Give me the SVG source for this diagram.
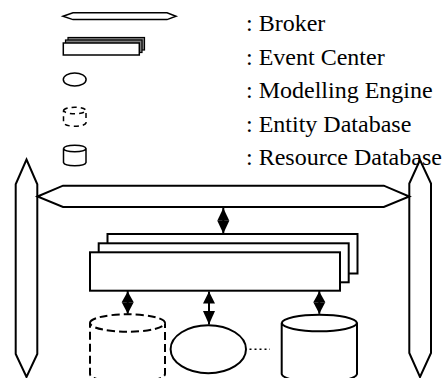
<svg xmlns="http://www.w3.org/2000/svg" width="443" height="378" viewBox="0 0 443 378">
  <style>
    .shape { fill: #fff; stroke: #000; stroke-width: 2; stroke-linejoin: miter; }
    .legend { fill: #fff; stroke: #000; stroke-width: 1.5; }
    .layer { fill: #808080; stroke: #000; stroke-width: 1.2; }
    .dash { stroke-dasharray: 8 4; }
    .ldash { stroke-dasharray: 5 4; }
    .label { font-family: "Liberation Serif", "Times New Roman", serif; font-size: 24px; fill: #000; }
    .head { fill: #000; stroke: none; }
    .stem { stroke: #000; stroke-width: 2; fill: none; }
  </style>
  <rect width="443" height="378" fill="#fff"/>

  <!-- legend -->
  <g id="legend">
    <g id="legend-broker">
      <polygon class="legend" points="63,16.3 73,12.8 167,12.8 176,16.3 167,19.6 73,19.6"/>
      <text class="label" x="246" y="31">: Broker</text>
    </g>
    <g id="legend-event-center">
      <rect class="layer" x="68" y="37.5" width="76.5" height="12.5"/>
      <rect class="layer" x="65.5" y="40" width="76.5" height="12.5"/>
      <rect class="legend" x="63.3" y="43" width="76" height="12"/>
      <text class="label" x="246" y="64.5">: Event Center</text>
    </g>
    <g id="legend-modelling-engine">
      <ellipse class="legend" cx="74.7" cy="79.5" rx="11.4" ry="6.6"/>
      <text class="label" x="246" y="98">: Modelling Engine</text>
    </g>
    <g id="legend-entity-database">
      <path class="legend ldash" d="M63.5,110.5 A11.3,3.6 0 0 1 86,110.5 A11.3,3.6 0 0 1 63.5,110.5 V123 A11.3,3.6 0 0 0 86,123 V110.5"/>
      <text class="label" x="246" y="131.5">: Entity Database</text>
    </g>
    <g id="legend-resource-database">
      <path class="legend" d="M63.5,148.5 A11.3,3.6 0 0 1 86,148.5 A11.3,3.6 0 0 1 63.5,148.5 V162.5 A11.3,3.6 0 0 0 86,162.5 V148.5"/>
      <text class="label" x="246" y="165">: Resource Database</text>
    </g>
  </g>

  <!-- side brokers -->
  <g id="broker-left">
    <polygon class="shape" points="26.5,159.5 37.3,184.3 37.3,354 26.5,377 15.7,354 15.7,184.3"/>
  </g>
  <g id="broker-right">
    <polygon class="shape" points="420,160 431,183.5 431,353 420,377 409.3,353 409.3,183.5"/>
  </g>

  <!-- main broker bus -->
  <g id="broker-main">
    <polygon class="shape" points="37.5,196.5 63,185.7 383.8,185.7 409.3,196.5 383.8,207 63,207"/>
  </g>

  <!-- event center stack -->
  <g id="event-center">
    <rect class="shape" x="107.5" y="234" width="250" height="39.5"/>
    <rect class="shape" x="98.7" y="243.3" width="250" height="39"/>
    <rect class="shape" x="90" y="252.3" width="250" height="38.4"/>
  </g>

  <!-- databases and engine -->
  <g id="entity-database">
    <path class="shape dash" d="M90,323 A37.5,8.7 0 0 1 165,323 A37.5,8.7 0 0 1 90,323 V374 A37.5,8.7 0 0 0 165,374 V323"/>
  </g>
  <g id="modelling-engine">
    <ellipse class="shape" cx="208.3" cy="349.2" rx="37.7" ry="24"/>
  </g>
  <g id="resource-database">
    <path class="shape" d="M281.7,323 A37.7,8.8 0 0 1 357,323 A37.7,8.8 0 0 1 281.7,323 V374 A37.7,8.8 0 0 0 357,374 V323"/>
  </g>

  <!-- connectors -->
  <g id="connectors">
    <!-- broker to event center -->
    <line class="stem" x1="223.3" y1="208" x2="223.3" y2="233.5"/>
    <polygon class="head" points="223.3,208 229.3,220.7 217.3,220.7"/>
    <polygon class="head" points="223.3,233.5 229.3,220.7 217.3,220.7"/>
    <!-- event center to entity database -->
    <line class="stem" x1="127.7" y1="291" x2="127.7" y2="313.8"/>
    <polygon class="head" points="127.7,291.5 133.7,302.3 121.7,302.3"/>
    <polygon class="head" points="127.7,313.8 133.7,302.3 121.7,302.3"/>
    <!-- event center to modelling engine -->
    <line class="stem" x1="209" y1="291.5" x2="209" y2="324.5"/>
    <polygon class="head" points="209,291.5 215,303.5 203,303.5"/>
    <polygon class="head" points="209,324.5 215,311 203,311"/>
    <!-- event center to resource database -->
    <line class="stem" x1="319.3" y1="291" x2="319.3" y2="313.8"/>
    <polygon class="head" points="319.3,291.5 325.3,302.3 313.3,302.3"/>
    <polygon class="head" points="319.3,313.8 325.3,302.3 313.3,302.3"/>
    <!-- further engines -->
    <line x1="249.5" y1="349.3" x2="270" y2="349.3" stroke="#000" stroke-width="1.5" stroke-dasharray="2 3"/>
  </g>
</svg>
